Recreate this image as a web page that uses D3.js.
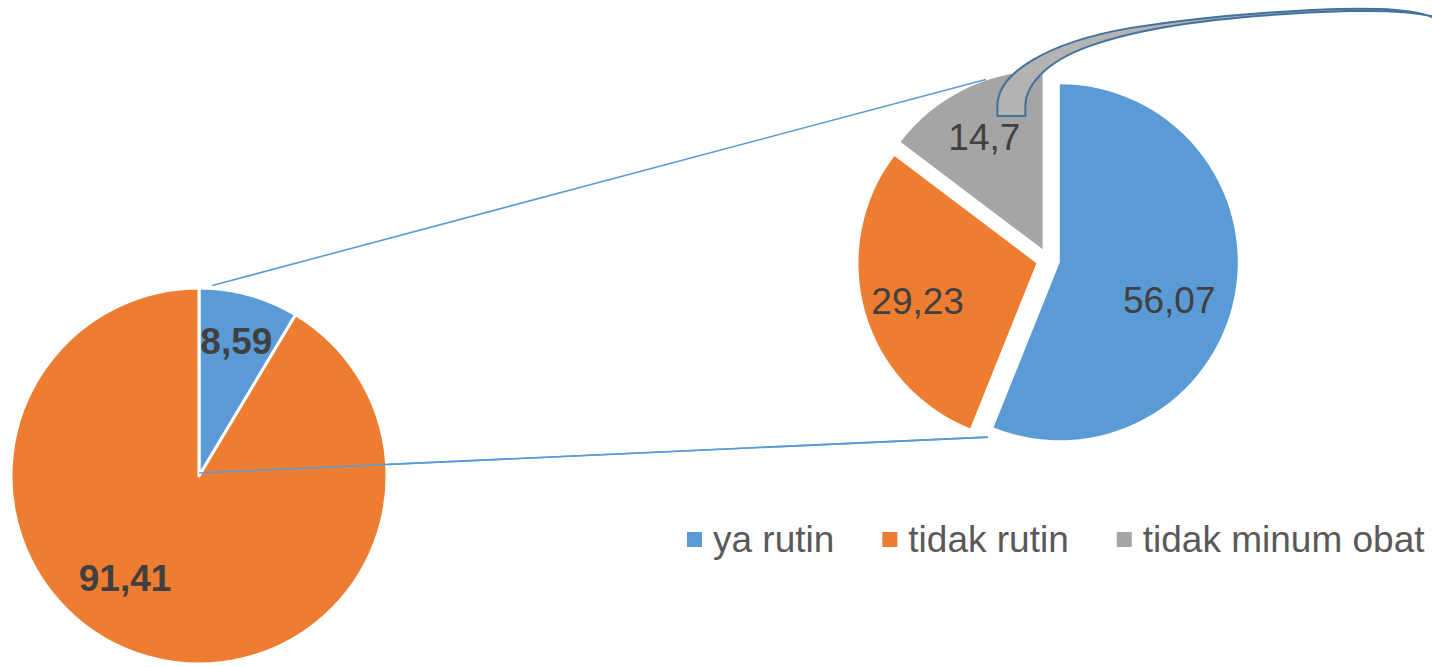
<!DOCTYPE html>
<html>
<head>
<meta charset="utf-8">
<script src="https://cdn.jsdelivr.net/npm/d3@7"></script>
<style>
  html, body { margin: 0; padding: 0; background: #ffffff; }
  svg { display: block; }
  text { font-family: "Liberation Sans", Arial, sans-serif; }
</style>
</head>
<body>
<svg id="chart" width="1432" height="667"></svg>
<script>
// Primary pie: share of all respondents
const mainCategories = ["ya rutin", "tidak rutin"];
const mainValues = [8.59, 91.41];
const mainLabels = ["8,59", "91,41"];

// Secondary pie: breakdown shown on the right
const subCategories = ["ya rutin", "tidak rutin", "tidak minum obat"];
const subValues = [56.07, 29.23, 14.7];
const subLabels = ["56,07", "29,23", "14,7"];

// Legend entries
const legendCategories = ["ya rutin", "tidak rutin", "tidak minum obat"];

const colors = ["#5B9BD5", "#ED7D31", "#A5A5A5"];
const colorScale = d3.scaleOrdinal().domain(legendCategories).range(colors);

const W = 1432, H = 667;
const svg = d3.select("#chart");

// ---- layout ----
const main = { cx: 199, cy: 476, r: 188 };
const sub = { cx: 1048, cy: 260, r: 178, explode: 12 };
const mainLabelPlace = [{ ratio: 0.745, turn: 0 }, { ratio: 0.67, turn: 20.5 }];
const subLabelPlace = [{ ratio: 0.65, turn: 8 }, { ratio: 0.70, turn: -2 }, { ratio: 0.71, turn: -1 }];

const rad = deg => deg * Math.PI / 180;
const polar = (cx, cy, r, a) => [cx + r * Math.sin(a), cy - r * Math.cos(a)];

const pie = d3.pie().sort(null).value(d => d).startAngle(0).endAngle(2 * Math.PI);

// ---- connector lines between the pies ----
const lines = svg.append("g").attr("class", "connectors");
const topStart = polar(main.cx, main.cy, main.r + 3, rad(4));
const topEnd = polar(sub.cx, sub.cy, sub.r + 13, rad(341));
const botStart = polar(main.cx, main.cy, 3, 0);
const botEnd = polar(sub.cx, sub.cy, sub.r + 9, rad(198.7));
[[topStart, topEnd], [botStart, botEnd]].forEach(([a, b]) => {
  lines.append("line")
    .attr("x1", a[0]).attr("y1", a[1])
    .attr("x2", b[0]).attr("y2", b[1])
    .attr("stroke", "#5B9BD5").attr("stroke-width", 1.6);
});

// ---- primary pie ----
const mainArc = d3.arc().innerRadius(0).outerRadius(main.r);
const mainArcs = pie(mainValues);
const gMain = svg.append("g").attr("transform", `translate(${main.cx},${main.cy})`);
gMain.selectAll("path")
  .data(mainArcs)
  .join("path")
  .attr("d", mainArc)
  .attr("fill", (d, i) => colorScale(mainCategories[i]))
  .attr("stroke", "#ffffff")
  .attr("stroke-width", 3)
  .attr("stroke-linejoin", "round");

// redraw the connector start over the slice so it stays visible
gMain.append("line")
  .attr("x1", botStart[0] - main.cx).attr("y1", botStart[1] - main.cy)
  .attr("x2", botEnd[0] - main.cx).attr("y2", botEnd[1] - main.cy)
  .attr("stroke", "#5B9BD5").attr("stroke-width", 1.6);

gMain.selectAll("text.lbl")
  .data(mainArcs)
  .join("text")
  .attr("class", "lbl")
  .attr("transform", (d, i) => {
    const p = mainLabelPlace[i];
    const a = (d.startAngle + d.endAngle) / 2 + rad(p.turn);
    const [x, y] = polar(0, 0, main.r * p.ratio, a);
    return `translate(${x},${y})`;
  })
  .attr("text-anchor", "middle")
  .attr("dy", "0.36em")
  .attr("font-size", 37)
  .attr("font-weight", "bold")
  .attr("fill", "#404040")
  .text((d, i) => mainLabels[i]);

// ---- secondary pie (every slice pulled out) ----
const subArc = d3.arc().innerRadius(0).outerRadius(sub.r);
const subArcs = pie(subValues);
const gSub = svg.append("g").attr("transform", `translate(${sub.cx},${sub.cy})`);
const offset = d => polar(0, 0, sub.explode, (d.startAngle + d.endAngle) / 2);
const slices = gSub.selectAll("g.slice")
  .data(subArcs)
  .join("g")
  .attr("class", "slice")
  .attr("transform", d => { const [x, y] = offset(d); return `translate(${x},${y})`; });

slices.append("path")
  .attr("d", subArc)
  .attr("fill", (d, i) => colorScale(subCategories[i]));

const subLabelPos = subArcs.map((d, i) => {
  const p = subLabelPlace[i];
  const a = (d.startAngle + d.endAngle) / 2 + rad(p.turn);
  const [ox, oy] = offset(d);
  const [x, y] = polar(0, 0, sub.r * p.ratio, a);
  return [sub.cx + ox + x, sub.cy + oy + y];
});

// callout tail attached to the smallest slice's label
const [lx, ly] = subLabelPos[2];
const tail = d3.path();
const P = (dx, dy) => [lx + dx, ly + dy];
(function () {
  tail.moveTo(...P(13, -21));
  tail.lineTo(...P(13, -31));
  tail.bezierCurveTo(...P(13, -65), ...P(65, -95), ...P(145, -109));
  tail.bezierCurveTo(...P(235, -123), ...P(345, -130), ...P(395, -128));
  tail.bezierCurveTo(...P(425, -127), ...P(443, -123), ...P(455, -117));
  tail.lineTo(...P(455, -119));
  tail.bezierCurveTo(...P(435, -125), ...P(405, -127), ...P(365, -126));
  tail.bezierCurveTo(...P(265, -123), ...P(165, -113), ...P(105, -91));
  tail.bezierCurveTo(...P(60, -75), ...P(41, -51), ...P(41, -31));
  tail.lineTo(...P(41, -21));
  tail.closePath();
})();
svg.append("path")
  .attr("d", tail.toString())
  .attr("fill", "#B3B3B3")
  .attr("stroke", "#41719C")
  .attr("stroke-width", 2)
  .attr("stroke-linejoin", "round");

svg.append("g").selectAll("text")
  .data(subArcs)
  .join("text")
  .attr("x", (d, i) => subLabelPos[i][0])
  .attr("y", (d, i) => subLabelPos[i][1])
  .attr("text-anchor", "middle")
  .attr("dy", "0.36em")
  .attr("font-size", 37)
  .attr("fill", "#404040")
  .text((d, i) => subLabels[i]);

// ---- legend ----
const legend = svg.append("g").attr("transform", "translate(687,532)");
let lxPos = 0;
legendCategories.forEach(cat => {
  const item = legend.append("g").attr("transform", `translate(${lxPos},0)`);
  item.append("rect").attr("width", 15).attr("height", 15).attr("fill", colorScale(cat));
  const t = item.append("text")
    .attr("x", 26).attr("y", 20)
    .attr("font-size", 37)
    .attr("fill", "#595959")
    .text(cat);
  lxPos += 26 + t.node().getComputedTextLength() + 48;
});
</script>
</body>
</html>
